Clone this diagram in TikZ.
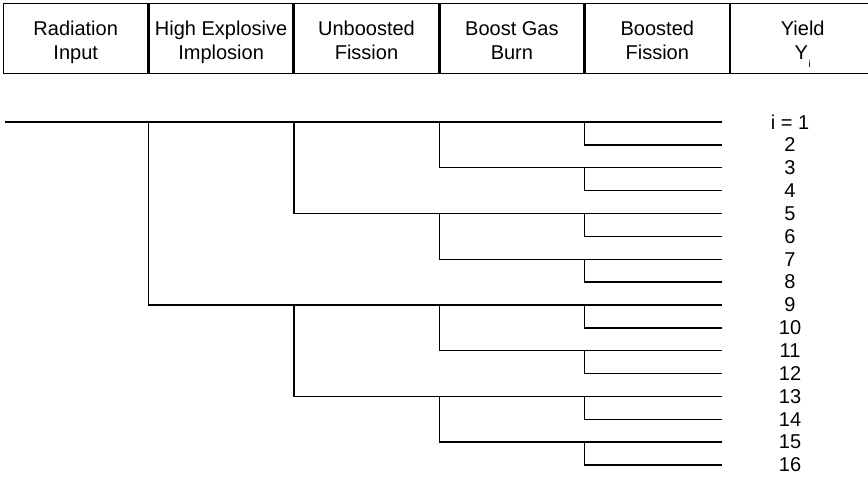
\documentclass[tikz,border=0pt]{standalone}
\usepackage{fontspec}
\setmainfont{Liberation Sans}
\usetikzlibrary{positioning}

% two header lines with fixed height and depth
\newcommand\stagelines[2]{\rule{0pt}{12pt}#1\\#2\rule[-3pt]{0pt}{3pt}}

\tikzset{
  hdr/.style={draw, line width=0.7pt, minimum width=72pt, minimum height=35pt,
    inner sep=0pt, align=center, font=\fontsize{10}{12}\selectfont},
  yieldlbl/.style={inner sep=0pt, font=\fontsize{10}{12}\selectfont},
  branch/.style={line width=0.7pt}
}

\begin{document}
\begin{tikzpicture}[x=0.5pt, y=-0.5pt]
\useasboundingbox (0,0) rectangle (868,479);

% stages of the weapon, left to right
\node[hdr, anchor=north west] (rad) at (3,3) {\stagelines{Radiation}{Input}};
\node[hdr, right=0pt of rad] (hei) {\stagelines{High Explosive}{Implosion}};
\node[hdr, right=0pt of hei] (unb) {\stagelines{Unboosted}{Fission}};
\node[hdr, right=0pt of unb] (bgb) {\stagelines{Boost Gas}{Burn}};
\node[hdr, right=0pt of bgb] (bof) {\stagelines{Boosted}{Fission}};
\node[hdr, right=0pt of bof] (yld)
  {\stagelines{Yield}{Y\kern0.3pt\smash{\raisebox{-4pt}{\fontsize{5}{6}\selectfont i}}}};

% end points of the branches and their yield numbers
\foreach \i in {1,...,16} {
  \coordinate (e\i) at (722, {122+(\i-1)*22.87});
}
\node[yieldlbl] (y1) at (790,122) {i = 1};
\foreach \i in {2,...,16} {
  \node[yieldlbl] (y\i) at (790, {122+(\i-1)*22.87}) {\i};
}

% the event tree
\coordinate (root) at (5,122);
\draw[branch] (root) -- (e1);
\draw[branch] (e1 -| hei.west) |- (e9);
\draw[branch] (e1 -| unb.west) |- (e5);
\draw[branch] (e9 -| unb.west) |- (e13);
\foreach \a/\b in {1/3, 5/7, 9/11, 13/15}
  \draw[branch] (e\a -| bgb.west) |- (e\b);
\foreach \a/\b in {1/2, 3/4, 5/6, 7/8, 9/10, 11/12, 13/14, 15/16}
  \draw[branch] (e\a -| bof.west) |- (e\b);

\end{tikzpicture}
\end{document}
